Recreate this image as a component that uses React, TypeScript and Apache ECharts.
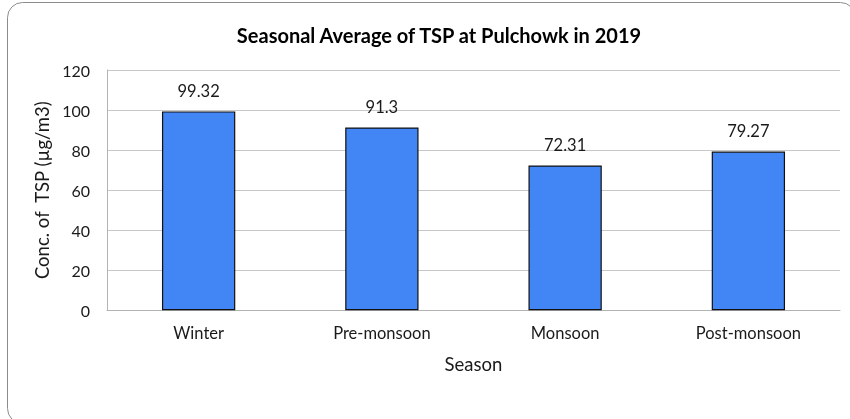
import React, { useEffect, useRef } from "react";
import * as echarts from "echarts";

const categories = ["Winter", "Pre-monsoon", "Monsoon", "Post-monsoon"];
const values = [99.32, 91.3, 72.31, 79.27];
const yTicks = [0, 20, 40, 60, 80, 100, 120];

const FONT = "Lato, 'Noto Sans', sans-serif";

export default function App() {
  const ref = useRef<HTMLDivElement>(null);
  useEffect(() => {
    if (!ref.current) return;
    const chart = echarts.init(ref.current, undefined, { renderer: "svg" });
    chart.setOption({
      animation: false,
      textStyle: { fontFamily: FONT },
      graphic: [
        {
          type: "rect",
          shape: { x: 7.5, y: 2.5, width: 848, height: 421, r: 15 },
          style: { fill: "#fff", stroke: "#8c8c8c", lineWidth: 1 },
          z: -10,
          silent: true,
        },
      ],
      title: {
        text: "Seasonal Average of TSP at Pulchowk in 2019",
        left: 434,
        textAlign: "center",
        top: 20,
        textStyle: { fontFamily: FONT, fontWeight: "bold", fontSize: 20, color: "#000" },
      },
      grid: { left: 107, right: 10, top: 70, bottom: 108.7, containLabel: false },
      xAxis: {
        type: "category",
        data: categories,
        axisLine: { show: true, lineStyle: { color: "#b3b3b3", width: 1 } },
        axisTick: { show: false },
        axisLabel: { color: "#1a1a1a", fontSize: 16.5, margin: 14, fontFamily: FONT },
        name: "Season",
        nameLocation: "middle",
        nameGap: 44,
        nameTextStyle: { color: "#1a1a1a", fontSize: 18.5, fontFamily: FONT },
      },
      yAxis: {
        type: "value",
        min: yTicks[0],
        max: yTicks[yTicks.length - 1],
        interval: 20,
        axisLine: { show: true, lineStyle: { color: "#b3b3b3", width: 1 } },
        axisTick: { show: false },
        splitLine: { show: true, lineStyle: { color: "#c8c8c8", width: 1 } },
        axisLabel: { color: "#1a1a1a", fontSize: 16, margin: 17, fontFamily: FONT },
        name: "Conc. of  TSP (µg/m3)",
        nameLocation: "middle",
        nameGap: 54,
        nameRotate: 90,
        nameTextStyle: { color: "#1a1a1a", fontSize: 18.5, fontFamily: FONT },
      },
      series: [
        {
          type: "bar",
          data: values,
          barWidth: "40%",
          itemStyle: { color: "#4285F4", borderColor: "#111", borderWidth: 1.2 },
          label: {
            show: true,
            position: "top",
            distance: 12,
            color: "#1a1a1a",
            fontSize: 16.5,
            fontFamily: FONT,
          },
        },
      ],
    });
    return () => chart.dispose();
  }, []);
  return <div ref={ref} style={{ width: 850, height: 419, position: "fixed", left: 0, top: 0 }} />;
}
